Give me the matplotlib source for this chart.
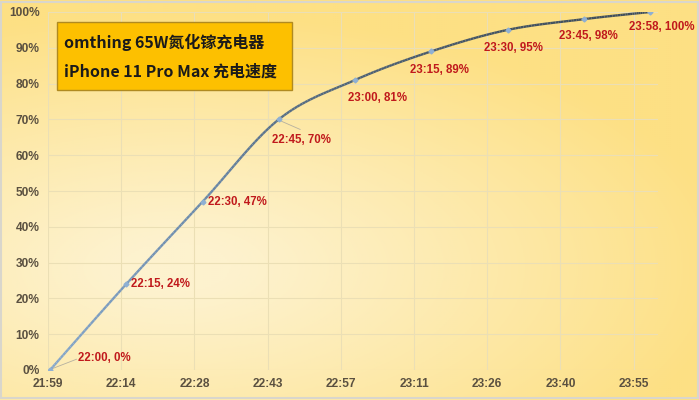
import numpy as np
import matplotlib
matplotlib.use("Agg")
import matplotlib.pyplot as plt
from matplotlib.colors import to_rgb, LinearSegmentedColormap
from matplotlib.collections import LineCollection
from matplotlib.patches import FancyBboxPatch

plt.rcParams['font.family'] = ['Noto Sans CJK SC', 'DejaVu Sans']

# data
times = ["22:00", "22:15", "22:30", "22:45", "23:00", "23:15", "23:30", "23:45", "23:58"]
percent = [0, 24, 47, 70, 81, 89, 95, 98, 100]
tick_labels = ["21:59", "22:14", "22:28", "22:43", "22:57", "23:11", "23:26", "23:40", "23:55"]
y_ticks = [0, 10, 20, 30, 40, 50, 60, 70, 80, 90, 100]
title_lines = ["omthing 65W氮化镓充电器", "iPhone 11 Pro Max 充电速度"]

# label offsets in pixels (dx, dy) relative to each point
label_offsets = [(28, 12), (5, 0), (5, 0), (-7, -21), (-7, -18),
                 (-21, -19), (-24, -18), (-25, -17), (-21, -15)]

label_font = ["Liberation Sans", "DejaVu Sans"]


def to_minutes(t):
    h, m = t.split(":")
    return int(h) * 60 + int(m)


def catmull_rom(x, y, n=30):
    # smooth line through the points, like Excel's "smoothed line"
    pts = np.column_stack([x, y]).astype(float)
    pts = np.vstack([pts[0], pts, pts[-1]])
    out = []
    for i in range(1, len(pts) - 2):
        p0, p1, p2, p3 = pts[i - 1], pts[i], pts[i + 1], pts[i + 2]
        t = np.linspace(0, 1, n)[:, None]
        seg = 0.5 * ((2 * p1) + (-p0 + p2) * t + (2 * p0 - 5 * p1 + 4 * p2 - p3) * t ** 2
                     + (-p0 + 3 * p1 - 3 * p2 + p3) * t ** 3)
        out.append(seg)
    out = np.vstack(out)
    return out[:, 0], out[:, 1]


x = np.array([to_minutes(t) for t in times], dtype=float)
y = np.array(percent, dtype=float) / 100.0

step = 14.4
x_start = x[0] - 0.4
tick_pos = [x_start + i * step for i in range(len(tick_labels))]

fig = plt.figure(figsize=(6.99, 4.0), dpi=100)

# background gradient (pale cream in the middle, warmer yellow at right/top)
bg = fig.add_axes([0, 0, 1, 1], zorder=0)
gx, gy = np.meshgrid(np.linspace(0, 1, 350), np.linspace(0, 1, 200))
d = np.sqrt(((gx - 0.25) / 1.0) ** 2 + ((gy - 0.33) / 0.8) ** 2)
w = np.clip((d - 0.08) / 0.72, 0, 1) ** 1.1
c_light = np.array(to_rgb("#fdf2ce"))
c_dark = np.array(to_rgb("#fde084"))
img = c_light[None, None, :] * (1 - w[..., None]) + c_dark[None, None, :] * w[..., None]
bg.imshow(img, origin="lower", extent=[0, 1, 0, 1], aspect="auto")
bg.set_xlim(0, 1)
bg.set_ylim(0, 1)
bg.axis("off")
bg.add_patch(plt.Rectangle((0.002, 0.004), 0.996, 0.992, fill=False,
                           edgecolor="#d9d6cc", linewidth=1.5))

ax = fig.add_axes([48 / 699, 30 / 400, 610 / 699, 358 / 400], zorder=1)
ax.patch.set_alpha(0)

# line shaded from light steel blue at the bottom to dark slate at the top
sx, sy = catmull_rom(x, y)
segs = np.stack([np.column_stack([sx[:-1], sy[:-1]]), np.column_stack([sx[1:], sy[1:]])], axis=1)
line_cmap = LinearSegmentedColormap.from_list("ln", ["#86a8cc", "#6a88a8", "#3e4d5c"])
lc = LineCollection(segs, cmap=line_cmap, linewidth=1.7, zorder=3)
lc.set_array((sy[:-1] + sy[1:]) / 2)
lc.set_clim(0, 1)
ax.add_collection(lc)
ax.plot(x, y, linestyle="none", marker="D", markersize=2.5, color="#8fb0d3", zorder=4)

for xi, yi, t, p, (dx, dy) in zip(x, y, times, percent, label_offsets):
    ax.annotate(f"{t}, {p}%", xy=(xi, yi), xytext=(dx, dy), textcoords="offset pixels",
                ha="left", va="center", fontsize=8.3, fontweight="bold",
                color="#c0191c", family=label_font, zorder=5)
ax.plot([x[0] + 0.3, x[0] + 5.2], [0.003, 0.03], color="#b5b0a0", linewidth=0.6)
ax.plot([x[3] + 0.5, x[3] + 4.2], [0.695, 0.672], color="#b5b0a0", linewidth=0.6)

ax.set_xlim(x_start, x_start + 120)
ax.set_ylim(0, 1)
ax.set_xticks(tick_pos)
ax.set_xticklabels(tick_labels)
ax.set_yticks([v / 100 for v in y_ticks])
ax.set_yticklabels([f"{v}%" for v in y_ticks])
ax.tick_params(length=0, labelsize=8.6, labelcolor="#5a5040", pad=6)
for lab in ax.get_xticklabels() + ax.get_yticklabels():
    lab.set_fontweight("bold")
    lab.set_family(label_font)
ax.grid(True, color="#ebdfb5", linewidth=0.8)
for s in ax.spines.values():
    s.set_visible(False)

# title box
box = FancyBboxPatch((57 / 699, 1 - 90 / 400), 235 / 699, 68 / 400,
                     boxstyle="square,pad=0", transform=fig.transFigure,
                     facecolor="#fdc000", edgecolor="#b08a20", linewidth=1.0, zorder=6)
fig.patches.append(box)
fig.text(64 / 699, 1 - 42 / 400, title_lines[0], fontsize=11.5, fontweight="bold",
         color="#1a1a1a", va="center", ha="left", zorder=7)
fig.text(64 / 699, 1 - 72 / 400, title_lines[1], fontsize=11.5, fontweight="bold",
         color="#1a1a1a", va="center", ha="left", zorder=7)

fig.savefig("out.png", dpi=100)
